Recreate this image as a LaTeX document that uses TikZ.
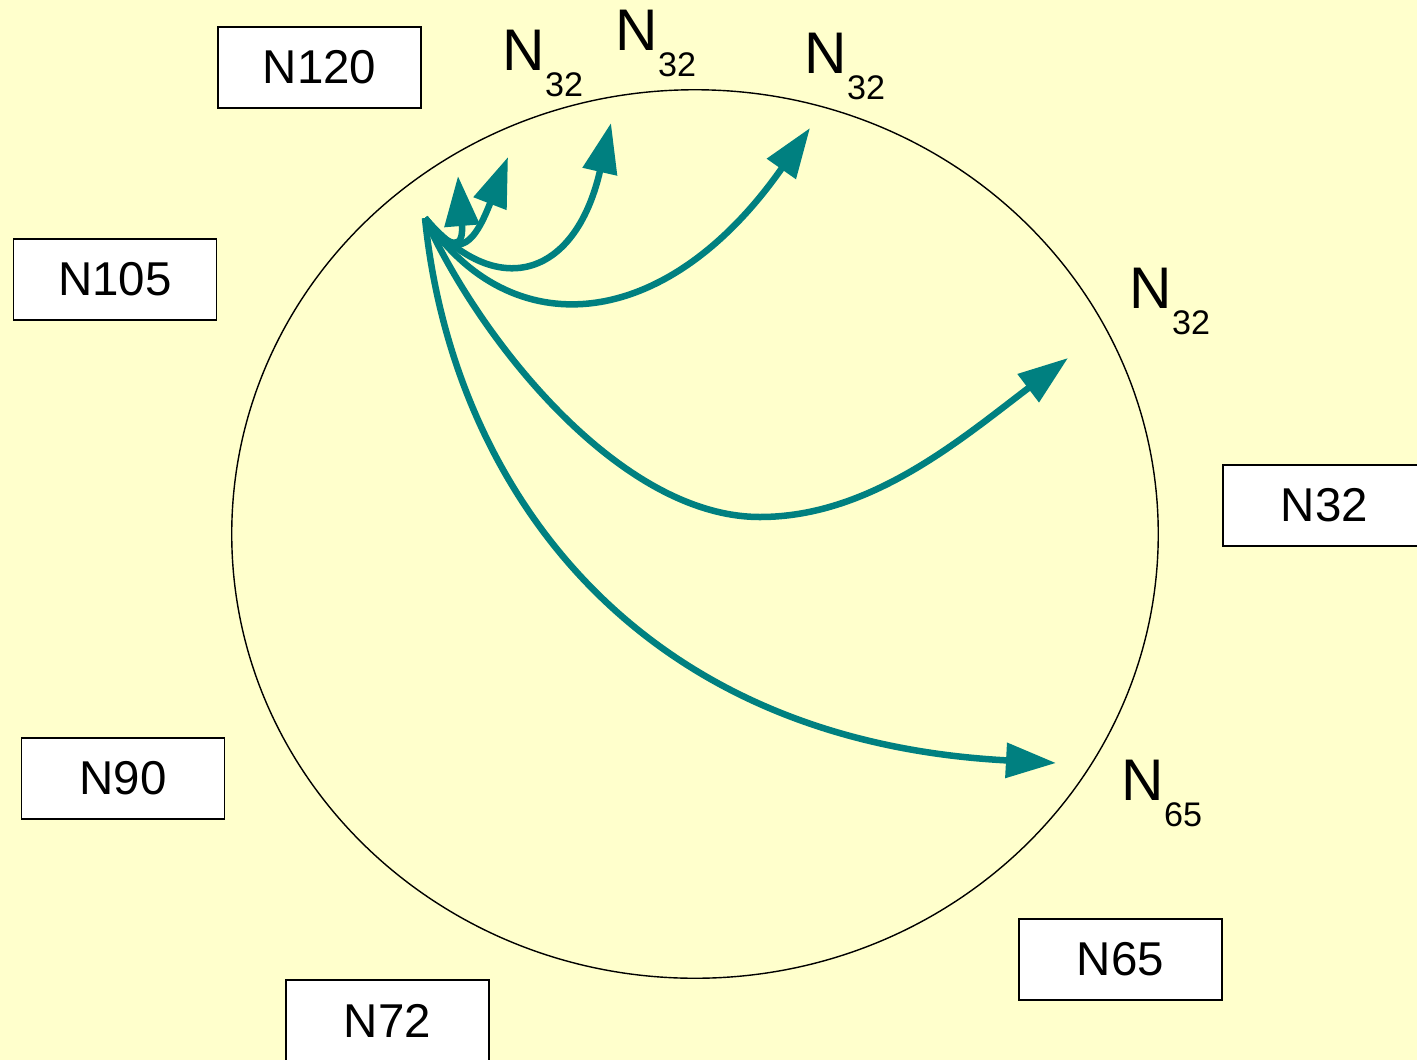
\documentclass[tikz,border=0pt]{standalone}
\usepackage{fontspec}
\setmainfont{Liberation Sans}
\usepackage{xcolor}
\usetikzlibrary{positioning,arrows.meta}
\definecolor{paper}{RGB}{255,255,204}
\definecolor{hopteal}{RGB}{0,128,128}
\newcommand{\hopname}[1]{N\raisebox{-0.26cm}{\fontsize{9.7}{12}\selectfont #1}}

\begin{document}
\begin{tikzpicture}[x=0.01cm, y=-0.01cm,
	ringnode/.style={rectangle, draw=black, fill=white, thin, minimum width=2.03cm, minimum height=0.81cm, inner sep=0pt, font=\fontsize{13.5}{16}\selectfont},
	hoplabel/.style={inner sep=0pt, anchor=base west, font=\fontsize{16.7}{20}\selectfont},
	hop/.style={-{Triangle[length=0.5cm,width=0.34cm]}, line width=0.065cm, draw=hopteal},
	]
	\useasboundingbox (0,0) rectangle (1417,1060);
	\fill[paper] (0,0) rectangle (1417,1060);
	\clip (0,0) rectangle (1417,1060);
	
	%Ring
	\draw[thin] (695,534) ellipse [x radius=4.63cm, y radius=4.44cm];
	
	%Nodes
	\node[ringnode] (n120) at (319.5,67.5)   {N120};
	\node[ringnode] (n105) at (115,279.5)    {N105};
	\node[ringnode] (n90)  at (123,778.5)    {N90};
	\node[ringnode] (n72)  at (387.5,1020.5) {N72};
	\node[ringnode] (n65)  at (1120.5,959.5) {N65};
	\node[ringnode] (n32)  at (1324.5,505.5) {N32};
	
	%Labels
	\node[hoplabel] (hopa) at (502,70)   {\hopname{32}};
	\node[hoplabel] (hopb) at (615,50)   {\hopname{32}};
	\node[hoplabel] (hopc) at (804,73)   {\hopname{32}};
	\node[hoplabel] (hopd) at (1129,308) {\hopname{32}};
	\node[hoplabel] (hope) at (1121,800) {\hopname{65}};
	
	%Fingers
	\coordinate (src) at (425,218);
	\coordinate (tipa) at (458,176);
	\coordinate (tipb) at (508,157);
	\coordinate (tipc) at (611,123);
	\coordinate (tipd) at (810,128);
	\coordinate (tipe) at (1068,358);
	\coordinate (tipf) at (1056,763);
	
	%Lines
	\draw[hop] (src) .. controls (450,250) and (464,250) .. (tipa);
	\draw[hop] (src) .. controls (455,260) and (472,250) .. (tipb);
	\draw[hop] (src) .. controls (495,300) and (575,280) .. (tipc);
	\draw[hop] (src) .. controls (510,345) and (665,335) .. (tipd);
	\draw[hop] (src) .. controls (480,340) and (620,517) .. (760,517) .. controls (870,517) and (960,440) .. (tipe);
	\draw[hop] (src) .. controls (450,470) and (620,740) .. (tipf);
\end{tikzpicture}
\end{document}
